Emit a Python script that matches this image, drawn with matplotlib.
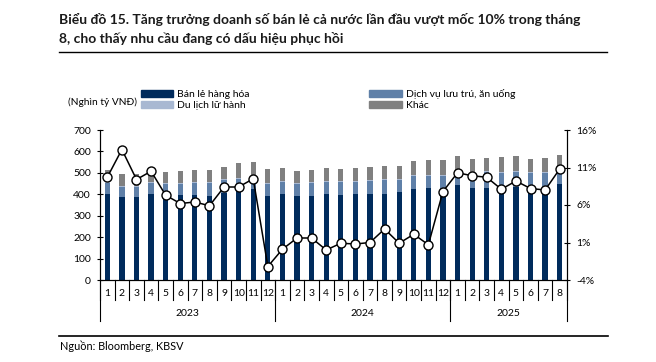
import numpy as np
import matplotlib.pyplot as plt
import matplotlib.transforms as mtransforms
from matplotlib.patches import Patch

plt.rcParams['font.family'] = ['Lato', 'Noto Sans', 'DejaVu Sans']

# Tháng và năm
months = [str(m) for m in range(1, 13)] * 2 + [str(m) for m in range(1, 9)]
years = ["2023", "2024", "2025"]
year_len = [12, 12, 8]

# Doanh thu (nghìn tỷ VNĐ) - cộng dồn theo nhóm
ban_le = [401, 386, 389, 401, 389, 397, 397, 392, 407, 415, 425, 393,
          403, 392, 392, 403, 397, 400, 401, 403, 411, 426, 429, 426,
          443, 431, 431, 423, 435, 428, 415, 448]
dich_vu = [54, 50, 47, 54, 58, 53, 55, 60, 59, 58, 52, 57,
           56, 58, 61, 56, 59, 59, 62, 63, 55, 60, 58, 60,
           52, 69, 72, 77, 70, 72, 85, 62]
du_lich = [4, 4, 4, 4, 4, 4, 4, 4, 4, 4, 4, 4,
           4, 4, 4, 4, 4, 4, 4, 4, 4, 5, 5, 5,
           5, 5, 5, 5, 5, 5, 5, 5]
khac = [54, 53, 53, 46, 51, 54, 56, 57, 59, 67, 71, 62,
        59, 53, 55, 58, 58, 59, 59, 60, 63, 66, 68, 67,
        77, 58, 60, 69, 67, 61, 63, 68]

# Tăng trưởng (%)
growth = [9.7, 13.4, 9.4, 10.5, 7.3, 6.2, 6.4, 5.9, 8.4, 8.4, 9.5, -2.2,
          0.1, 1.6, 1.6, 0.0, 0.9, 0.8, 1.0, 2.8, 0.9, 2.1, 0.7, 7.8,
          10.3, 9.9, 9.7, 8.1, 9.2, 8.2, 8.0, 10.8]

c_dark = "#002b5c"
c_mid = "#5f80a8"
c_light = "#a8b8d2"
c_gray = "#808080"

fig = plt.figure(figsize=(6.56, 3.62), dpi=100)
ax = fig.add_axes([100 / 656, 82 / 362, 467 / 656, 150 / 362])

x = np.arange(len(months))
b1 = np.array(ban_le)
b2 = b1 + np.array(dich_vu)
b3 = b2 + np.array(du_lich)
w = 0.36
ax.bar(x, ban_le, w, color=c_dark)
ax.bar(x, dich_vu, w, bottom=b1, color=c_mid)
ax.bar(x, du_lich, w, bottom=b2, color=c_light)
ax.bar(x, khac, w, bottom=b3, color=c_gray)

ax.set_xlim(-0.5, len(months) - 0.5)
ax.set_ylim(0, 700)
ax.set_yticks(range(0, 701, 100))
ax.tick_params(axis="y", direction="inout", length=5, labelsize=7.5, pad=4)
ax.set_xticks([])
ax.spines["top"].set_visible(False)

ax2 = ax.twinx()
ax2.plot(x, growth, color="black", lw=1.1, marker="o", ms=6.5,
         mfc="white", mec="black", mew=1.0, zorder=5)
ax2.set_ylim(-4, 16)
ax2.set_yticks([-4, 1, 6, 11, 16])
ax2.set_yticklabels([f"{v}%" for v in [-4, 1, 6, 11, 16]])
ax2.tick_params(axis="y", direction="inout", length=5, labelsize=7.5, pad=4)
ax2.spines["top"].set_visible(False)
ax2.set_xlim(-0.5, len(months) - 0.5)

# Nhãn trục x: tháng và năm
trans = mtransforms.blended_transform_factory(ax.transData, fig.transFigure)
y0 = 82 / 362
for i, m in enumerate(months):
    ax.text(i, (362 - 293) / 362, m, transform=trans, ha="center", va="center", fontsize=7.5)
for k in range(len(months) + 1):
    ax.plot([k - 0.5, k - 0.5], [y0, (362 - 300) / 362], transform=trans,
            color="black", lw=0.8, clip_on=False)
start = 0
for yr, n in zip(years, year_len):
    ax.plot([start - 0.5, start - 0.5], [y0, (362 - 321) / 362], transform=trans,
            color="black", lw=0.8, clip_on=False)
    ax.text(start + n / 2 - 0.5, (362 - 313) / 362, yr, transform=trans,
            ha="center", va="center", fontsize=7.5)
    start += n
ax.plot([start - 0.5, start - 0.5], [y0, (362 - 321) / 362], transform=trans,
        color="black", lw=0.8, clip_on=False)

# Tiêu đề
fig.text(59 / 656, 1 - 29 / 362,
         "Biểu đồ 15. Tăng trưởng doanh số bán lẻ cả nước lần đầu vượt mốc 10% trong tháng\n"
         "8, cho thấy nhu cầu đang có dấu hiệu phục hồi",
         ha="left", va="center", fontsize=10, fontweight="bold", linespacing=1.58,
         color="#1a1a1a")
fig.add_artist(plt.Line2D([59 / 656, 607 / 656], [1 - 52 / 362, 1 - 52 / 362],
                          transform=fig.transFigure, color="black", lw=1.0))

# Chú giải
fig.text(137 / 656, 1 - 102 / 362, "(Nghìn tỷ VNĐ)", ha="right", va="center", fontsize=7.3)
handles = [Patch(color=c_dark), Patch(color=c_light), Patch(color=c_mid), Patch(color=c_gray)]
labels = ["Bán lẻ hàng hóa", "Du lịch lữ hành", "Dịch vụ lưu trú, ăn uống", "Khác"]
fig.legend(handles, labels, ncol=2, loc="upper left",
           bbox_to_anchor=(141 / 656, 1 - 89 / 362), frameon=False, fontsize=7.5,
           handlelength=3.1, handleheight=0.6, handletextpad=0.4,
           columnspacing=11.45, labelspacing=0.2, borderpad=0, borderaxespad=0)

# Nguồn
fig.add_artist(plt.Line2D([59 / 656, 608 / 656], [1 - 336 / 362, 1 - 336 / 362],
                          transform=fig.transFigure, color="black", lw=1.2))
fig.text(60 / 656, 1 - 346 / 362, "Nguồn: Bloomberg, KBSV", ha="left", va="center", fontsize=7.8)

fig.savefig("out.png", dpi=100)
